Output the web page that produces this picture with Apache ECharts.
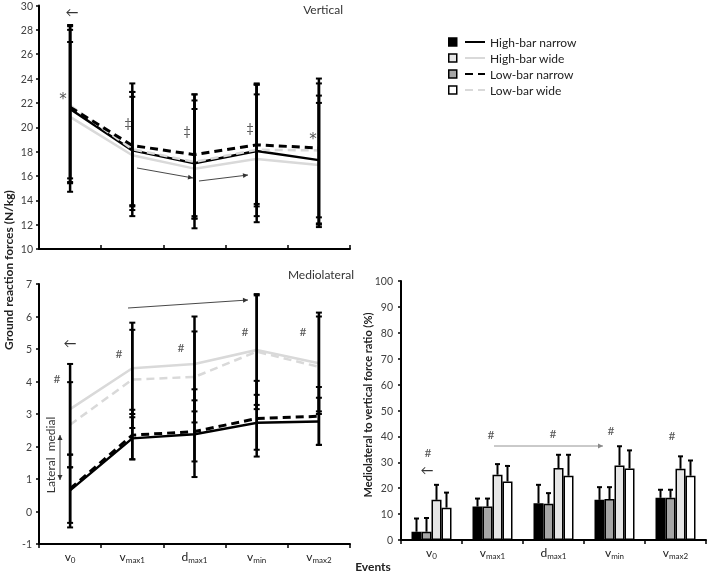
<!DOCTYPE html>
<html><head><meta charset="utf-8">
<script src="https://cdn.jsdelivr.net/npm/echarts@6/dist/echarts.min.js"></script>
<style>html,body{margin:0;padding:0;background:#fff}#c{width:708px;height:573px;will-change:transform}</style>
</head><body><div id="c"></div>
<script>
// ---------- data ----------
const categories = ['v0', 'vmax1', 'dmax1', 'vmin', 'vmax2'];
const seriesNames = ['High-bar narrow', 'High-bar wide', 'Low-bar narrow', 'Low-bar wide'];

// Vertical GRF (N/kg), means
const vertHBN = [21.5, 18.1, 17.05, 18.05, 17.3];
const vertHBW = [20.85, 17.7, 16.6, 17.4, 16.9];
const vertLBN = [21.65, 18.5, 17.75, 18.55, 18.3];
const vertLBW = [21.8, 18.2, 17.15, 18.15, 18.1];
// Vertical error bars [low, high]
const vertErrHBN = [[15.5, 28.0], [13.6, 22.5], [12.5, 21.5], [13.5, 22.7], [12.6, 22.0]];
const vertErrHBW = [[15.8, 27.0], [13.2, 22.9], [12.7, 22.2], [13.7, 23.5], [12.1, 22.6]];
const vertErrLBN = [[14.7, 28.4], [12.7, 23.6], [11.7, 22.7], [12.2, 23.6], [11.8, 24.0]];
const vertErrLBW = [[15.4, 28.3], [13.5, 22.9], [12.5, 22.7], [12.7, 23.5], [12.0, 23.6]];

// Mediolateral GRF (N/kg), means
const mlHBN = [0.65, 2.25, 2.38, 2.73, 2.77];
const mlHBW = [3.15, 4.41, 4.54, 4.97, 4.56];
const mlLBN = [0.7, 2.35, 2.46, 2.86, 2.93];
const mlLBW = [2.67, 4.06, 4.14, 4.92, 4.45];
// Mediolateral error bars [low, high]
const mlErrHBN = [[-0.49, 1.75], [1.61, 2.9], [1.06, 3.76], [1.9, 3.59], [2.05, 3.5]];
const mlErrHBW = [[1.75, 4.54], [3.0, 5.81], [3.08, 6.0], [3.28, 6.69], [3.08, 6.12]];
const mlErrLBN = [[-0.35, 1.36], [1.6, 3.13], [1.54, 3.42], [1.69, 4.02], [2.05, 3.83]];
const mlErrLBW = [[1.36, 3.98], [2.57, 5.59], [2.74, 5.54], [3.15, 6.65], [3.0, 6.0]];

// Mediolateral to vertical force ratio (%)
const ratioHBN = [3.2, 12.9, 14.2, 15.5, 16.3];
const ratioLBN = [3.2, 12.9, 14.0, 15.8, 16.3];
const ratioHBW = [15.5, 25.2, 27.8, 28.8, 27.5];
const ratioLBW = [12.5, 22.6, 24.8, 27.6, 24.8];
// upper end of error bars
const ratioHiHBN = [8.3, 16.0, 21.3, 20.4, 19.4];
const ratioHiLBN = [8.5, 16.0, 18.1, 20.4, 19.4];
const ratioHiHBW = [21.3, 29.3, 32.9, 36.2, 32.3];
const ratioHiLBW = [18.3, 28.6, 32.9, 34.6, 30.7];

// axis ticks
const vertTicks = {min: 10, max: 30, interval: 2};
const mlTicks = {min: -1, max: 7, interval: 1};
const ratioTicks = {min: 0, max: 100, interval: 10};

// ---------- styles ----------
const FONT = 'Lato, "DejaVu Sans", sans-serif';
const LIGHT = '#d9d9d9';
const lineStyles = {
  'High-bar narrow': {color: '#000', type: 'solid', width: 2.5},
  'High-bar wide': {color: LIGHT, type: 'solid', width: 2.5},
  'Low-bar narrow': {color: '#000', type: [8, 5], width: 3},
  'Low-bar wide': {color: LIGHT, type: [8, 5], width: 2.5}
};
const barFill = {
  'High-bar narrow': '#000',
  'Low-bar narrow': '#a6a6a6',
  'High-bar wide': '#e6e6e6',
  'Low-bar wide': '#ffffff'
};
const BAR_W = 10;

function errRender(params, api) {
  const x = api.value(0);
  const lo = api.coord([x, api.value(1)]);
  const hi = api.coord([x, api.value(2)]);
  const cw = 3;
  const st = {stroke: '#000', lineWidth: 2};
  return {type: 'group', children: [
    {type: 'line', shape: {x1: lo[0], y1: lo[1], x2: hi[0], y2: hi[1]}, style: {stroke: '#000', lineWidth: 2.5}},
    {type: 'line', shape: {x1: lo[0] - cw, y1: lo[1], x2: lo[0] + cw, y2: lo[1]}, style: st},
    {type: 'line', shape: {x1: hi[0] - cw, y1: hi[1], x2: hi[0] + cw, y2: hi[1]}, style: st}
  ]};
}
function barErrRender(slot) {
  return function (params, api) {
    const x = api.value(0);
    const b = api.coord([x, api.value(1)]);
    const t = api.coord([x, api.value(2)]);
    const dx = (slot - 1.5) * BAR_W;
    const st = {stroke: '#000', lineWidth: 2};
    return {type: 'group', children: [
      {type: 'line', shape: {x1: b[0] + dx, y1: b[1], x2: t[0] + dx, y2: t[1]}, style: st},
      {type: 'line', shape: {x1: t[0] + dx - 2.5, y1: t[1], x2: t[0] + dx + 2.5, y2: t[1]}, style: st}
    ]};
  };
}

function lineSeries(name, data, idx) {
  const ls = lineStyles[name];
  return {type: 'line', name, data, xAxisIndex: idx, yAxisIndex: idx, symbol: 'none',
    lineStyle: {color: ls.color, type: ls.type, width: ls.width}, itemStyle: {color: ls.color},
    z: 2, animation: false};
}
function errSeries(name, pairs, idx) {
  return {type: 'custom', name, xAxisIndex: idx, yAxisIndex: idx, renderItem: errRender,
    data: pairs.map((p, i) => [i, p[0], p[1]]), encode: {x: 0, y: [1, 2]}, z: 3, silent: true, animation: false};
}
function barSeries(name, data) {
  return {type: 'bar', name, data, xAxisIndex: 2, yAxisIndex: 2, barWidth: BAR_W, barGap: '0%',
    itemStyle: {color: barFill[name], borderColor: '#000', borderWidth: 1.5}, z: 2, animation: false};
}
function barErrSeries(name, vals, his, slot) {
  return {type: 'custom', name, xAxisIndex: 2, yAxisIndex: 2, renderItem: barErrRender(slot),
    data: vals.map((v, i) => [i, v, his[i]]), encode: {x: 0, y: [1, 2]}, z: 3, silent: true, animation: false};
}

const catLabel = {
  show: true, margin: 4, interval: 0,
  formatter: function (s) { return '{b|' + s.charAt(0) + '}{s|' + s.slice(1) + '}'; },
  rich: {
    b: {fontSize: 12, fontFamily: FONT, color: '#222'},
    s: {fontSize: 8, fontFamily: FONT, color: '#222', padding: [8, 0, 0, 0]}
  }
};
function xAx(idx, showLabel, inside) {
  return {type: 'category', gridIndex: idx, data: categories, boundaryGap: true,
    axisLine: {show: true, onZero: false, lineStyle: {color: '#000', width: 2}},
    axisTick: {show: true, inside: inside, length: 4, interval: 0, lineStyle: {color: '#000', width: 1.5}},
    axisLabel: showLabel ? catLabel : {show: false}, splitLine: {show: false}};
}
function yAx(idx, t, margin) {
  return {type: 'value', gridIndex: idx, min: t.min, max: t.max, interval: t.interval,
    axisLine: {show: true, lineStyle: {color: '#000', width: 2}},
    axisTick: {show: true, length: 3, lineStyle: {color: '#000', width: 1.5}},
    axisLabel: {fontSize: 10.5, fontFamily: FONT, color: '#404040', margin: margin},
    splitLine: {show: false}};
}

// ---------- annotations helpers ----------
function T(x, y, text, o) {
  return {type: 'text', x: x, y: y, rotation: (o && o.rot) || 0, z: 10,
    style: {text: text, fill: (o && o.color) || '#555', fontSize: (o && o.size) || 12,
      fontFamily: (o && o.family) || FONT, fontWeight: (o && o.bold) ? 'bold' : 'normal',
      align: (o && o.align) || 'center', verticalAlign: 'middle'}};
}
function arrow(x1, y1, x2, y2, color, both) {
  const ang = Math.atan2(y2 - y1, x2 - x1);
  const L = 5, W = 2.5;
  function head(px, py, a) {
    return {type: 'polygon', shape: {points: [
      [px, py],
      [px - L * Math.cos(a) + W * Math.sin(a), py - L * Math.sin(a) - W * Math.cos(a)],
      [px - L * Math.cos(a) - W * Math.sin(a), py - L * Math.sin(a) + W * Math.cos(a)]
    ]}, style: {fill: color}};
  }
  const ch = [{type: 'line', shape: {x1, y1, x2, y2}, style: {stroke: color, lineWidth: 0.9}}, head(x2, y2, ang)];
  if (both) ch.push(head(x1, y1, ang + Math.PI));
  return {type: 'group', z: 10, children: ch};
}

const STAR = {size: 15, family: '"DejaVu Sans", sans-serif'};
const graphics = [
  T(343, 9, 'Vertical', {align: 'right', color: '#333'}),
  T(354, 274, 'Mediolateral', {align: 'right', color: '#333'}),
  T(8, 270, 'Ground reaction forces (N/kg)', {rot: Math.PI / 2, bold: true, size: 12, color: '#222'}),
  T(367, 405, 'Mediolateral to vertical force ratio (%)', {rot: Math.PI / 2, bold: true, size: 11, color: '#222'}),
  T(373, 566, 'Events', {bold: true, size: 12, color: '#222'}),
  // vertical panel
  T(72, 12, '←', {size: 13, color: '#333'}),
  T(63, 99, '*', STAR),
  T(128, 123, '‡', {size: 13}),
  T(187, 131, '‡', {size: 13}),
  T(250, 128, '‡', {size: 13}),
  T(313, 139, '*', STAR),
  arrow(137, 168, 193, 178, '#333'),
  arrow(199, 181, 248, 175, '#333'),
  // mediolateral panel
  T(70, 343, '←', {size: 13, color: '#333'}),
  T(57, 378, '#', {size: 12}),
  T(119, 353, '#', {size: 12}),
  T(181, 347, '#', {size: 12}),
  T(245, 331, '#', {size: 12}),
  T(303, 331, '#', {size: 12}),
  arrow(128, 308, 248, 300, '#333'),
  T(50, 455, 'Lateral  medial', {rot: Math.PI / 2, size: 12, color: '#333'}),
  arrow(60, 435, 60, 480, '#333', true),
  // ratio panel
  T(428, 452, '#', {size: 12}),
  T(427, 470, '←', {size: 13, color: '#333'}),
  T(491, 434, '#', {size: 12}),
  T(553, 433, '#', {size: 12}),
  T(611, 430, '#', {size: 12}),
  T(672, 435, '#', {size: 12}),
  arrow(494, 446, 603, 446, '#888')
];

const legendSquares = {
  'High-bar narrow': {color: '#000', borderColor: '#000', borderWidth: 1.5},
  'High-bar wide': {color: '#e6e6e6', borderColor: '#000', borderWidth: 1.5},
  'Low-bar narrow': {color: '#a6a6a6', borderColor: '#000', borderWidth: 1.5},
  'Low-bar wide': {color: '#fff', borderColor: '#000', borderWidth: 1.5}
};

const option = {
  backgroundColor: '#fff',
  animation: false,
  textStyle: {fontFamily: FONT},
  grid: [
    {left: 39, top: 5, width: 311, height: 244},
    {left: 39, top: 284, width: 311, height: 260},
    {left: 401, top: 281, width: 305, height: 259}
  ],
  xAxis: [xAx(0, false, true), xAx(1, true, false), xAx(2, true, false)],
  yAxis: [yAx(0, vertTicks, 6), yAx(1, mlTicks, 7), yAx(2, ratioTicks, 8)],
  legend: [
    {data: seriesNames, orient: 'vertical', left: 459, top: 30, itemWidth: 20, itemHeight: 14, itemGap: 2,
      selectedMode: false, itemStyle: {opacity: 0},
      textStyle: {fontSize: 12, fontFamily: FONT, color: '#222', lineHeight: 14}},
    {data: seriesNames.map(n => ({name: n, icon: 'rect', itemStyle: legendSquares[n]})),
      orient: 'vertical', left: 443, top: 30, itemWidth: 8, itemHeight: 8, itemGap: 2,
      selectedMode: false, formatter: function () { return ' '; },
      textStyle: {fontSize: 12, lineHeight: 14}}
  ],
  graphic: graphics,
  series: [
    lineSeries('High-bar wide', vertHBW, 0),
    lineSeries('High-bar narrow', vertHBN, 0),
    lineSeries('Low-bar wide', vertLBW, 0),
    lineSeries('Low-bar narrow', vertLBN, 0),
    errSeries('High-bar narrow', vertErrHBN, 0),
    errSeries('High-bar wide', vertErrHBW, 0),
    errSeries('Low-bar narrow', vertErrLBN, 0),
    errSeries('Low-bar wide', vertErrLBW, 0),
    lineSeries('High-bar wide', mlHBW, 1),
    lineSeries('Low-bar wide', mlLBW, 1),
    lineSeries('High-bar narrow', mlHBN, 1),
    lineSeries('Low-bar narrow', mlLBN, 1),
    errSeries('High-bar narrow', mlErrHBN, 1),
    errSeries('High-bar wide', mlErrHBW, 1),
    errSeries('Low-bar narrow', mlErrLBN, 1),
    errSeries('Low-bar wide', mlErrLBW, 1),
    barSeries('High-bar narrow', ratioHBN),
    barSeries('Low-bar narrow', ratioLBN),
    barSeries('High-bar wide', ratioHBW),
    barSeries('Low-bar wide', ratioLBW),
    barErrSeries('High-bar narrow', ratioHBN, ratioHiHBN, 0),
    barErrSeries('Low-bar narrow', ratioLBN, ratioHiLBN, 1),
    barErrSeries('High-bar wide', ratioHBW, ratioHiHBW, 2),
    barErrSeries('Low-bar wide', ratioLBW, ratioHiLBW, 3)
  ]
};
const chart = echarts.init(document.getElementById('c'), null, {renderer: 'svg'});
chart.setOption(option);
</script></body></html>
